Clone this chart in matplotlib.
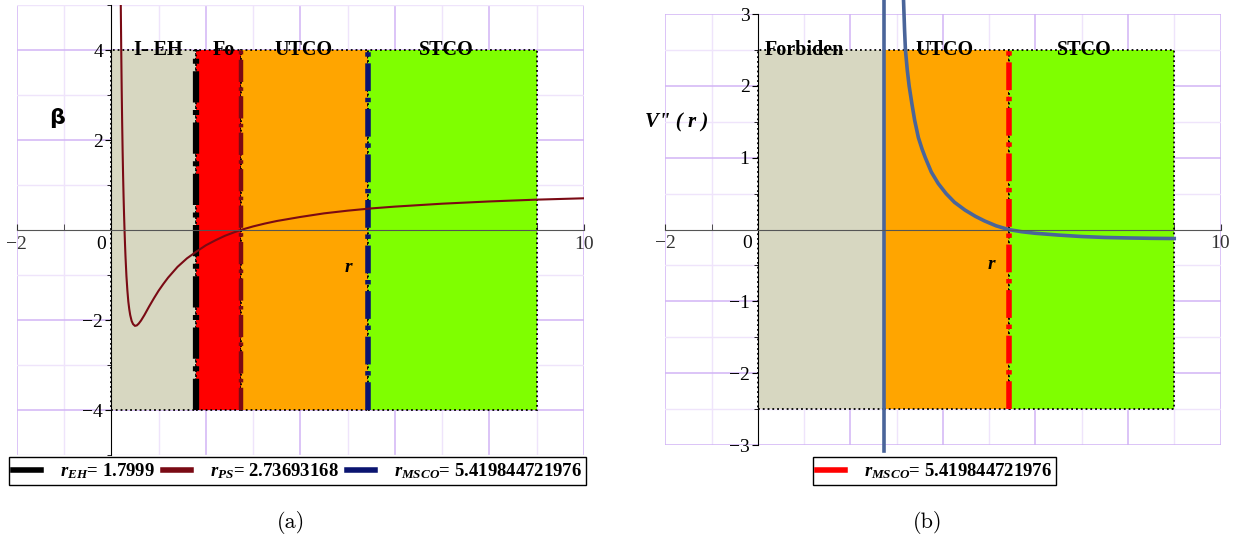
import matplotlib.pyplot as plt
from matplotlib.patches import Rectangle
from matplotlib.lines import Line2D
from matplotlib.ticker import FixedLocator

plt.rcParams['font.family'] = 'serif'
plt.rcParams['font.serif'] = ['Liberation Serif', 'DejaVu Serif']
plt.rcParams['mathtext.fontset'] = 'custom'
plt.rcParams['mathtext.it'] = 'Liberation Serif:italic:bold'
plt.rcParams['mathtext.rm'] = 'Liberation Serif:bold'
plt.rcParams['mathtext.bf'] = 'Liberation Serif:bold'

# characteristic radii
r_EH = 1.7999
r_PS = 2.73693168
r_MSCO = 5.419844721976
r_out = 9.0

# beta(r), panel (a)
r_beta = [0.19, 0.20, 0.21, 0.22, 0.23, 0.24, 0.25, 0.26, 0.27, 0.28, 0.29, 0.30,
          0.32, 0.34, 0.36, 0.38, 0.40, 0.43, 0.46, 0.50, 0.54, 0.58, 0.63, 0.70,
          0.80, 0.90, 1.0, 1.1, 1.2, 1.4, 1.6, 1.8, 2.0, 2.2, 2.4, 2.6, 2.737,
          2.9, 3.0, 3.25, 3.5, 4.0, 4.5, 5.0, 5.5, 6.0, 7.0, 8.0, 9.0, 10.0]
beta = [6.35, 5.07, 4.01, 3.12, 2.37, 1.73, 1.19, 0.73, 0.34, 0.0, -0.31, -0.58,
        -1.02, -1.34, -1.59, -1.76, -1.89, -2.02, -2.09, -2.13, -2.12, -2.08, -2.01, -1.89,
        -1.70, -1.52, -1.35, -1.20, -1.06, -0.82, -0.63, -0.48, -0.34, -0.23, -0.13, -0.05, 0.0,
        0.05, 0.08, 0.144, 0.20, 0.29, 0.37, 0.43, 0.48, 0.52, 0.585, 0.635, 0.675, 0.705]

# V''(r), panel (b)
r_vpp = [3.146, 3.17, 3.19, 3.23, 3.27, 3.33, 3.39, 3.47, 3.55, 3.62, 3.75, 3.90,
         4.07, 4.25, 4.48, 4.70, 4.90, 5.15, 5.42, 5.70, 6.0, 6.5, 7.0, 7.5, 8.0, 8.5, 9.0]
vpp = [3.25, 2.80, 2.50, 2.22, 2.00, 1.75, 1.52, 1.28, 1.12, 1.00, 0.80, 0.64,
       0.50, 0.38, 0.27, 0.185, 0.12, 0.052, 0.0, -0.03, -0.052, -0.077, -0.097, -0.11, -0.117, -0.122, -0.125]

# shaded zones
zones_a = ["I- EH", "Fo", "UTCO", "STCO"]
edges_a = [0, r_EH, r_PS, r_MSCO, r_out]
colors_a = ['#d7d7c1', '#ff0000', '#ffa500', '#7fff00']
label_x_a = [1.0, 2.37, 4.07, 7.09]

zones_b = ["Forbiden", "UTCO", "STCO"]
edges_b = [0, r_PS, r_MSCO, r_out]
colors_b = ['#d7d7c1', '#ffa500', '#7fff00']
label_x_b = [1.0, 4.03, 7.06]

serif = 'Liberation Serif'
dashdot = (0, (5, 1.2, 0.8, 1.2))
leg_font = {'family': serif, 'weight': 'bold', 'size': 13.5}

fig = plt.figure(figsize=(12.41, 5.40), dpi=100)
ax1 = fig.add_axes([0.0135, 0.1574, 0.4571, 0.8333])
ax2 = fig.add_axes([0.5361, 0.1759, 0.4474, 0.7980])


def maple_axes(ax, ylim, ymaj, ymin):
    ax.set_xlim(-2, 10)
    ax.set_ylim(*ylim)
    ax.spines['top'].set_visible(False)
    ax.spines['right'].set_visible(False)
    ax.spines['left'].set_position(('data', 0))
    ax.spines['bottom'].set_position(('data', 0))
    ax.spines['bottom'].set_color('#555555')
    ax.spines['left'].set_color('black')
    ax.spines['bottom'].set_zorder(6)
    ax.spines['left'].set_zorder(6)
    ax.xaxis.set_major_locator(FixedLocator([-2, 2, 4, 6, 8, 10]))
    ax.xaxis.set_minor_locator(FixedLocator([-1, 1, 3, 5, 7, 9]))
    ax.yaxis.set_major_locator(FixedLocator(ymaj))
    ax.yaxis.set_minor_locator(FixedLocator(ymin))
    ax.tick_params(axis='x', which='both', direction='in', length=4, pad=4,
                   colors='#333333', labelsize=14)
    ax.tick_params(axis='y', which='major', direction='out', length=4, pad=2, labelsize=14)
    ax.tick_params(axis='y', which='minor', direction='out', length=3)
    ax.grid(which='major', color='#d2b4f5', lw=1.1, zorder=0)
    ax.grid(which='minor', color='#efe4fb', lw=1.0, zorder=0)
    ax.set_axisbelow(True)
    ax.annotate('0', xy=(0, 0), xytext=(-4, -4), textcoords='offset points',
                ha='right', va='top', fontsize=14)


def zones(ax, edges, colors, names, xs, h):
    for i, c in enumerate(colors):
        ax.add_patch(Rectangle((edges[i], -h), edges[i + 1] - edges[i], 2 * h,
                               facecolor=c, edgecolor='black', lw=1.3,
                               linestyle=':', zorder=1))
    for name, x in zip(names, xs):
        ax.text(x, h, name, ha='center', va='center', fontweight='bold',
                fontsize=14.5, zorder=7)


# panel (a)
maple_axes(ax1, (-5, 5), [-4, -2, 2, 4], [-5, -3, -1, 1, 3, 5])
zones(ax1, edges_a, colors_a, zones_a, label_x_a, 4)
ax1.plot([r_EH, r_EH], [-4, 4], color='black', lw=4.5, linestyle=dashdot, zorder=3)
ax1.plot([r_PS, r_PS], [-4, 4], color='#7a0a14', lw=3.2, linestyle=dashdot, zorder=3)
ax1.plot([r_MSCO, r_MSCO], [-4, 4], color='#0a1470', lw=4.0, linestyle=dashdot, zorder=3)
ax1.plot(r_beta, beta, color='#7a0a14', lw=1.5, zorder=5)
ax1.text(-1.15, 2.5, 'β', fontfamily='DejaVu Sans', fontsize=16, fontweight='bold',
         ha='center', va='center')
ax1.text(5.02, -0.84, 'r', fontstyle='italic', fontweight='bold',
         fontsize=14, ha='center', va='center')

h1 = [Line2D([], [], color='black', lw=4),
      Line2D([], [], color='#7a0a14', lw=4),
      Line2D([], [], color='#0a1470', lw=4)]
l1 = [r'$r_{EH}$= 1.7999', r'$r_{PS}$= 2.73693168', r'$r_{MSCO}$= 5.419844721976']
ax1.legend(h1, l1, loc='center', bbox_to_anchor=(0.2397, 0.1278),
           bbox_transform=fig.transFigure, ncol=3, fancybox=False,
           edgecolor='black', framealpha=1, borderpad=0.2, handlelength=1.5,
           handletextpad=1.0, columnspacing=0.45, prop=leg_font)

# panel (b)
maple_axes(ax2, (-3, 3), [-3, -2, -1, 1, 2, 3], [-2.5, -1.5, -0.5, 0.5, 1.5, 2.5])
zones(ax2, edges_b, colors_b, zones_b, label_x_b, 2.5)
ax2.plot([r_MSCO, r_MSCO], [-2.5, 2.5], color='#ff0000', lw=4.0, linestyle=dashdot, zorder=3)
ax2.plot([r_PS, r_PS], [-3.08, 3.25], color='#4a659a', lw=2.6, zorder=5, clip_on=False)
ax2.plot(r_vpp, vpp, color='#4a659a', lw=2.6, zorder=5, clip_on=False)
ax2.text(-1.76, 1.49, 'V" ( r )', fontstyle='italic', fontweight='bold',
         fontsize=15, ha='center', va='center')
ax2.text(5.04, -0.49, 'r', fontstyle='italic', fontweight='bold',
         fontsize=14, ha='center', va='center')

ax2.legend([Line2D([], [], color='#ff0000', lw=4)], [r'$r_{MSCO}$= 5.419844721976'],
           loc='center', bbox_to_anchor=(0.753, 0.1278),
           bbox_transform=fig.transFigure, fancybox=False, edgecolor='black',
           framealpha=1, borderpad=0.2, handlelength=1.5, handletextpad=1.0,
           prop=leg_font)

fig.text(0.2345, 0.0333, '(a)', fontfamily='cmr10', fontsize=16, ha='center', va='center')
fig.text(0.7478, 0.0333, '(b)', fontfamily='cmr10', fontsize=16, ha='center', va='center')

fig.savefig('out.png', dpi=100)
